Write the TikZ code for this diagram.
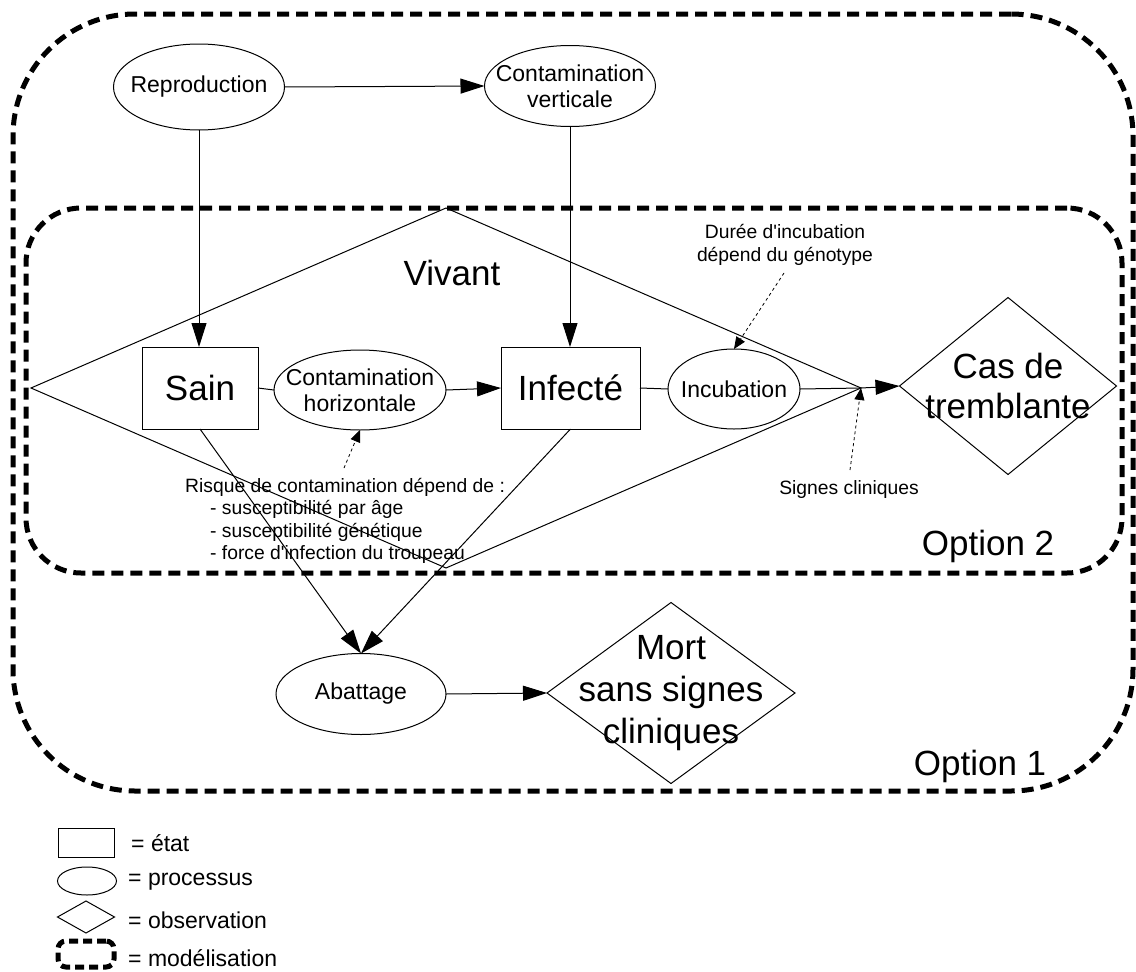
\documentclass[tikz,border=0pt]{standalone}
\usepackage{fontspec}
\setmainfont[Ligatures=TeXOff]{Liberation Sans}
\usetikzlibrary{shapes.geometric,arrows.meta}
\begin{document}
\begin{tikzpicture}[x=1pt,y=-1pt,
  ln/.style={line width=1pt},
  arr/.style={line width=1pt,-{Triangle[length=24pt,width=15pt]}},
  dotarr/.style={line width=0.8pt,dash pattern=on 3pt off 3pt,-{Triangle[length=12pt,width=10pt]}},
  stbox/.style={draw,line width=1pt,rectangle,inner sep=0pt,outer sep=0pt},
  proc/.style={draw,line width=1pt,ellipse,inner sep=0pt,outer sep=0pt},
  obs/.style={draw,line width=1pt,diamond,inner sep=0pt,outer sep=0pt},
  modbox/.style={draw,line width=5pt,dash pattern=on 12pt off 7pt,rectangle,inner sep=0pt,outer sep=0pt},
  bigtxt/.style={inner sep=0pt,align=center,font=\fontsize{35pt}{40pt}\selectfont},
  midtxt/.style={inner sep=0pt,align=center,font=\fontsize{23pt}{26pt}\selectfont},
  smalltxt/.style={inner sep=0pt,font=\fontsize{19.3pt}{22.5pt}\selectfont},
  legtxt/.style={inner sep=0pt,anchor=west,font=\fontsize{23pt}{26pt}\selectfont},
]
\fill[white] (0,0) rectangle (1136,972);
\useasboundingbox (0,0) rectangle (1136,972);

% modelling boxes
\node[modbox,minimum width=1120pt,minimum height=777pt,rounded corners=122pt] (opt1) at (573,402.5) {};
\node[modbox,minimum width=1096pt,minimum height=365pt,rounded corners=55pt] (opt2) at (574,390.5) {};

% Vivant diamond
\node[obs,minimum width=830pt,minimum height=360pt] (viv) at (446,388) {};
\node[bigtxt] (vivt) at (452,273) {Vivant};

% processes
\node[proc,minimum width=171pt,minimum height=86pt] (rep) at (199,87) {};
\node[midtxt] (rept) at (rep) {Reproduction};
\node[proc,minimum width=171pt,minimum height=81pt] (cv) at (570,86) {};
\node[midtxt] (cvt) at (cv) {Contamination\\verticale};
\node[proc,minimum width=172pt,minimum height=80pt] (ch) at (360,390) {};
\node[midtxt] (cht) at (ch) {Contamination\\horizontale};
\node[proc,minimum width=132pt,minimum height=80pt] (inc) at (734,389) {};
\node[midtxt] (inct) at (inc) {Incubation};
\node[proc,minimum width=170pt,minimum height=81pt] (abt) at (361,694) {};
\node[midtxt] (abtt) at (abt) {Abattage};

% states
\node[stbox,minimum width=116pt,minimum height=82pt] (sain) at (200,388) {};
\node[bigtxt] (saint) at (sain) {Sain};
\node[stbox,minimum width=139pt,minimum height=82pt] (inf) at (570.5,388) {};
\node[bigtxt] (inft) at (inf) {Infecté};

% observations
\node[obs,minimum width=217pt,minimum height=177pt] (cas) at (1008,386) {};
\node[bigtxt] (cast) at (cas) {Cas de\\tremblante};
\node[obs,minimum width=248pt,minimum height=181pt] (mort) at (671,693) {};
\node[bigtxt,font=\fontsize{35pt}{42pt}\selectfont] (mortt) at (mort) {Mort\\sans signes\\cliniques};

% annotations
\node[smalltxt,align=center] (dur) at (785,245) {Durée d'incubation\\dépend du génotype};
\node[smalltxt] (sig) at (849,490) {Signes cliniques};
\node[smalltxt,align=left,anchor=west] (risk) at (185,521) {Risque de contamination dépend de :\\\hspace*{25pt}- susceptibilité par âge\\\hspace*{25pt}- susceptibilité génétique\\\hspace*{25pt}- force d'infection du troupeau};
\node[bigtxt] (o2) at (988,546) {Option 2};
\node[bigtxt] (o1) at (980,766) {Option 1};

% connectors
\draw[arr] (rep.east) -- (cv.west);
\draw[arr] (rep.south) -- (rep.south |- sain.north);
\draw[arr] (cv.south) -- (cv.south |- inf.north);
\draw[ln] (sain.east) -- (ch.west);
\draw[arr] (ch.east) -- (inf.west);
\draw[ln] (inf.east) -- (inc.west);
\draw[ln] (inc.east) -- (viv.east);
\draw[arr] (viv.east) -- (cas.west);
\draw[arr] (sain.south) -- (abt.north);
\draw[arr] (inf.south) -- (abt.north);
\draw[arr] (abt.east) -- (mort.west);

\coordinate (rq) at (344,468);
\coordinate (dq) at (784,273);
\coordinate (sq) at (850,470);
\draw[dotarr] (rq) -- (ch.south);
\draw[dotarr] (dq) -- (inc.north);
\draw[dotarr] (sq) -- (viv.east);

% legend
\node[stbox,minimum width=56pt,minimum height=29pt] (lst) at (86,842.5) {};
\node[legtxt] (lstt) at (131,843) {= état};
\node[proc,minimum width=59pt,minimum height=28pt] (lpr) at (87,881) {};
\node[legtxt] (lprt) at (128,882) {= processus};
\node[obs,minimum width=57pt,minimum height=32pt] (lob) at (86,917) {};
\node[legtxt] (lobt) at (128,920) {= observation};
\node[modbox,dash pattern=on 9pt off 5pt,rounded corners=8pt,minimum width=56pt,minimum height=26pt] (lmo) at (86,954) {};
\node[legtxt] (lmot) at (128,958) {= modélisation};
\end{tikzpicture}
\end{document}
